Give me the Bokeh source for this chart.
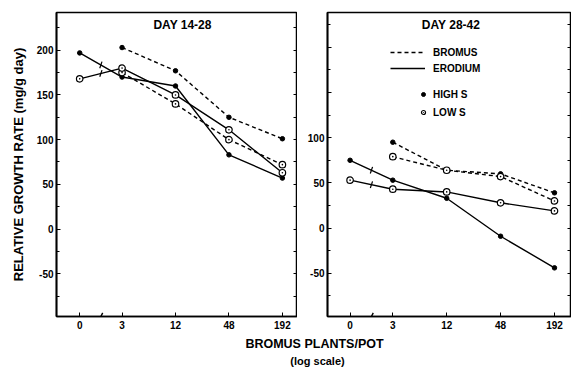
import numpy as np
from bokeh.plotting import figure
from bokeh.models import FixedTicker, LinearAxis, Label, Legend, LegendItem, Range1d
from bokeh.layouts import column, row
from bokeh.embed import file_html
from bokeh.resources import INLINE

# ---------------- data ----------------
plants = [0, 3, 12, 48, 192]
tick_labels = ["0", "3", "12", "48", "192"]

left_title = "DAY 14-28"
left_bromus_high = [np.nan, 203, 177, 125, 101]
left_bromus_low = [np.nan, 175, 140, 100, 72]
left_erodium_high = [197, 170, 160, 83, 57]
left_erodium_low = [168, 180, 150, 111, 63]

right_title = "DAY 28-42"
right_bromus_high = [np.nan, 95, 64, 60, 39]
right_bromus_low = [np.nan, 79, 64, 57, 30]
right_erodium_high = [75, 53, 33, -9, -44]
right_erodium_low = [53, 43, 40, 28, 19]

y_major = [-50, 0, 50, 100, 150, 200]
y_minor = [-75, -25, 25, 75, 125, 175, 225]
y_all = [-75, -50, -25, 0, 25, 50, 75, 100, 125, 150, 175, 200, 225]

FONT = "Liberation Sans"
INK = "black"

# "0" plants is drawn at the broken start of the log axis
x_plot = [p if p > 0 else 1 for p in plants]
x_break = float(np.sqrt(x_plot[0] * x_plot[1]))


def make_panel(title, bh, bl, eh, el, width, x_rng, y_rng, mb_left, mb_top, mb_bottom,
               shown_labels, title_xy, ylabel=None):
    p = figure(width=width, height=335, x_axis_type="log",
               x_range=Range1d(*x_rng), y_range=Range1d(*y_rng),
               output_backend="svg", toolbar_location=None,
               min_border_left=mb_left, min_border_right=0,
               min_border_top=mb_top, min_border_bottom=mb_bottom,
               background_fill_color="white", border_fill_color="white")
    p.grid.visible = False
    p.outline_line_color = INK
    p.outline_line_width = 1.5

    # x axis
    xa = p.xaxis[0]
    xa.ticker = FixedTicker(ticks=x_plot, minor_ticks=[])
    xa.major_label_overrides = {x: t for x, t in zip(x_plot, tick_labels)}
    xa.major_tick_in = 4
    xa.major_tick_out = 0
    xa.minor_tick_in = 0
    xa.minor_tick_out = 0
    xa.axis_line_width = 1.5
    xa.axis_line_color = INK
    xa.major_tick_line_color = INK
    xa.major_label_text_font = FONT
    xa.major_label_text_font_style = "bold"
    xa.major_label_text_font_size = "10px"
    xa.major_label_text_color = INK
    xa.major_label_standoff = 4

    # y axis (left)
    ya = p.yaxis[0]
    ya.ticker = FixedTicker(ticks=y_major, minor_ticks=y_minor)
    ya.major_label_overrides = {v: (str(v) if v in shown_labels else "") for v in y_major}
    ya.major_tick_in = 4
    ya.major_tick_out = 0
    ya.minor_tick_in = 3
    ya.minor_tick_out = 0
    ya.axis_line_width = 1.8
    ya.axis_line_color = INK
    ya.major_tick_line_color = INK
    ya.minor_tick_line_color = INK
    ya.major_label_text_font = FONT
    ya.major_label_text_font_style = "bold"
    ya.major_label_text_font_size = "10px"
    ya.major_label_text_color = INK
    ya.major_label_standoff = 3
    if ylabel:
        ya.axis_label = ylabel
        ya.axis_label_text_font = FONT
        ya.axis_label_text_font_style = "bold"
        ya.axis_label_text_font_size = "13px"
        ya.axis_label_text_color = INK
        ya.axis_label_standoff = 8

    # right border ticks
    ra = LinearAxis(ticker=FixedTicker(ticks=y_all, minor_ticks=[]),
                    major_label_overrides={v: "" for v in y_all},
                    major_label_text_font_size="0px",
                    major_tick_in=4, major_tick_out=0, minor_tick_in=0, minor_tick_out=0,
                    major_label_standoff=0, axis_line_color=INK, axis_line_width=1.5,
                    major_tick_line_color=INK)
    p.add_layout(ra, "right")

    # series
    rb_h = p.line(x_plot, bh, line_color=INK, line_width=1.4, line_dash="4 3")
    rb_l = p.line(x_plot, bl, line_color=INK, line_width=1.4, line_dash="4 3")
    re_h = p.line(x_plot, eh, line_color=INK, line_width=1.4)
    re_l = p.line(x_plot, el, line_color=INK, line_width=1.4)

    hs = []
    ls = []
    for ys in (bh, eh):
        hs.append(p.scatter(x_plot, ys, marker="circle", size=4.5,
                            fill_color=INK, line_color=INK))
    for ys in (bl, el):
        ls.append(p.scatter(x_plot, ys, marker="circle_dot", size=6.5,
                            fill_color="white", line_color=INK, line_width=1.2))

    # break marks: on the Erodium lines and on the x axis
    brk_y = [(eh[0] + eh[1]) / 2.0, (el[0] + el[1]) / 2.0]
    p.scatter([x_break] * 2, brk_y, marker="dash", size=7, angle=1.25,
              line_color=INK, line_width=1.2)
    p.scatter([x_break], [y_rng[0]], marker="dash", size=8, angle=1.1,
              line_color=INK, line_width=1.4)

    p.add_layout(Label(x=title_xy[0], y=title_xy[1], text=title, text_font=FONT,
                       text_font_style="bold", text_font_size="12px", text_color=INK,
                       text_align="center", text_baseline="middle"))
    return p, (rb_h, re_h, hs[1], ls[1])


p1, _ = make_panel(left_title, left_bromus_high, left_bromus_low, left_erodium_high,
                   left_erodium_low, 297, (4 ** -0.434, 4 ** 4.075), (-97.8, 242.2),
                   56, 12, 17, [-50, 0, 50, 100, 150, 200], (14.4, 228),
                   ylabel="RELATIVE GROWTH RATE (mg/g day)")
p2, rends = make_panel(right_title, right_bromus_high, right_bromus_low, right_erodium_high,
                       right_erodium_low, 274, (4 ** -0.419, 4 ** 4.108), (-97.8, 238.5),
                       30, 10, 19, [-50, 0, 50, 100], (13.4, 225))

legend_style = dict(background_fill_alpha=0, border_line_alpha=0, padding=0, margin=0,
                    spacing=0, label_text_font=FONT, label_text_font_style="bold",
                    label_text_font_size="10px", label_text_color=INK)
leg1 = Legend(items=[LegendItem(label="BROMUS", renderers=[rends[0]]),
                     LegendItem(label="ERODIUM", renderers=[rends[1]])],
              location=(63, 240), glyph_width=35, glyph_height=16, label_height=16,
              label_standoff=8, **legend_style)
leg2 = Legend(items=[LegendItem(label="HIGH S", renderers=[rends[2]]),
                     LegendItem(label="LOW S", renderers=[rends[3]])],
              location=(91, 195), glyph_width=10, glyph_height=18, label_height=18,
              label_standoff=5, **legend_style)
p2.add_layout(leg1)
p2.add_layout(leg2)

# shared x-axis title under both panels
p3 = figure(width=571, height=38, x_range=Range1d(0, 571), y_range=Range1d(0, 38),
            output_backend="svg", toolbar_location=None,
            x_axis_location=None, y_axis_location=None,
            min_border_left=0, min_border_right=0, min_border_top=0, min_border_bottom=0,
            background_fill_color="white", border_fill_color="white")
p3.grid.visible = False
p3.outline_line_color = None
p3.add_layout(Label(x=314, y=30, text="BROMUS PLANTS/POT", text_font=FONT,
                    text_font_style="bold", text_font_size="12.5px", text_color=INK,
                    text_align="center", text_baseline="middle"))
p3.add_layout(Label(x=317, y=13, text="(log scale)", text_font=FONT,
                    text_font_style="bold", text_font_size="11px", text_color=INK,
                    text_align="center", text_baseline="middle"))

layout = column(row(p1, p2, spacing=0), p3, spacing=0)
open("out.html", "w").write(file_html(layout, INLINE))
